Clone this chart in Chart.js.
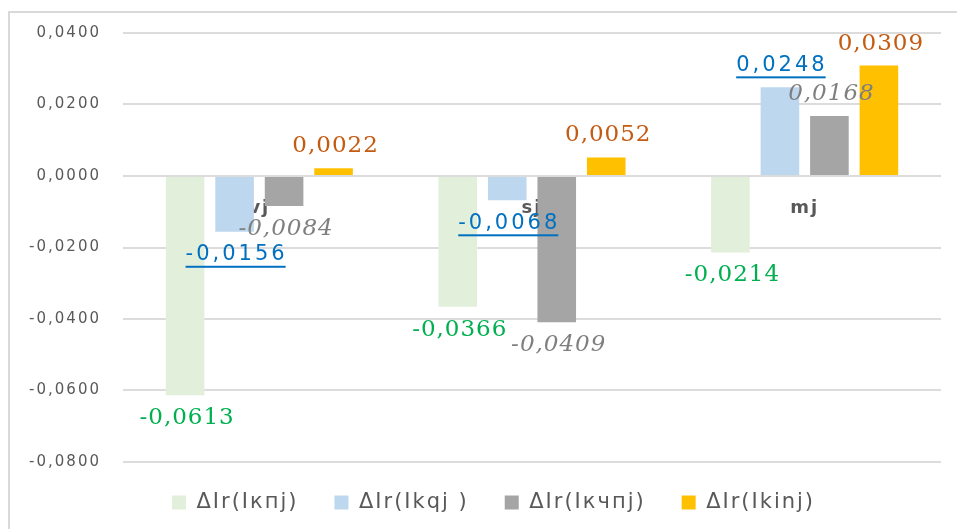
<!DOCTYPE html>
<html>
<head>
<meta charset="utf-8">
<script src="https://cdn.jsdelivr.net/npm/chart.js@4.4.1/dist/chart.umd.min.js"></script>
<style>
html, body { margin: 0; padding: 0; background: #fff; }
canvas { display: block; }
</style>
</head>
<body>
<canvas id="chart" width="957" height="529"></canvas>
<script>
const categories = ['vj', 'sj', 'mj'];
const seriesNames = ['ΔIr(Iкпj)', 'ΔIr(Ikqj )', 'ΔIr(Iкчпj)', 'ΔIr(Ikinj)'];
const kpValues = [-0.0613, -0.0366, -0.0214];
const kqValues = [-0.0156, -0.0068, 0.0248];
const kchpValues = [-0.0084, -0.0409, 0.0168];
const kinValues = [0.0022, 0.0052, 0.0309];
const yTicks = [0.04, 0.02, 0, -0.02, -0.04, -0.06, -0.08];

const barColors = ['#E2EFDA', '#BDD7EE', '#A5A5A5', '#FFC000'];
// value label look per series (Excel styled each series differently)
const labelStyles = [
    { color: '#00B050', font: '23px "DejaVu Serif"', spacing: '1px' },
    { color: '#0070C0', font: '21px "DejaVu Sans"', spacing: '3px', underline: true },
    { color: '#7F7F7F', font: 'italic 23px "DejaVu Serif"', spacing: '1px' },
    { color: '#C55A11', font: '23px "DejaVu Serif"', spacing: '1px' },
];

const fmt = v => Number(v).toFixed(4).replace('.', ',');

// wide text like the original rendering
const spacing = {
    id: 'spacing',
    beforeLayout(chart) { chart.ctx.letterSpacing = '2px'; },
    beforeDraw(chart) { chart.ctx.letterSpacing = '2px'; }
};

// nudge the legend: a bit right and up, like the excel one
const legendShift = {
    id: 'legendShift',
    afterLayout(chart) {
        const lg = chart.legend;
        lg.left += 13; lg.right += 13;
        lg.top -= 6; lg.bottom -= 6;
    }
};

const frame = {
    id: 'frame',
    beforeDraw(chart) {
        const ctx = chart.ctx;
        ctx.save();
        ctx.fillStyle = '#fff';
        ctx.fillRect(0, 0, chart.width, chart.height);
        ctx.strokeStyle = '#d9d9d9';
        ctx.lineWidth = 2;
        ctx.beginPath();
        ctx.moveTo(9, chart.height);
        ctx.lineTo(9, 12);
        ctx.lineTo(chart.width, 12);
        ctx.stroke();
        ctx.restore();
    }
};

const valueLabels = {
    id: 'valueLabels',
    afterDatasetsDraw(chart) {
        const ctx = chart.ctx;
        chart.data.datasets.forEach((ds, i) => {
            const st = labelStyles[i];
            chart.getDatasetMeta(i).data.forEach((bar, j) => {
                const v = ds.data[j];
                const text = fmt(v);
                const y = v < 0 ? bar.y + 23 : bar.y - 22;
                ctx.save();
                ctx.font = st.font;
                ctx.letterSpacing = st.spacing;
                ctx.fillStyle = st.color;
                ctx.textAlign = 'center';
                ctx.textBaseline = 'middle';
                ctx.fillText(text, bar.x + 2, y);
                if (st.underline) {
                    const w = ctx.measureText(text).width;
                    ctx.fillRect(bar.x + 2 - w / 2, y + 11, w - 2, 2);
                }
                ctx.restore();
            });
        });
    }
};

const seriesValues = [kpValues, kqValues, kchpValues, kinValues];

new Chart(document.getElementById('chart'), {
    type: 'bar',
    data: {
        labels: categories,
        datasets: seriesNames.map((name, i) => ({
            label: name,
            data: seriesValues[i],
            backgroundColor: barColors[i],
            barPercentage: 0.78,
            categoryPercentage: 0.726,
        }))
    },
    options: {
        responsive: false,
        animation: false,
        layout: { padding: { left: 20, right: 16, top: 33, bottom: 0 } },
        plugins: {
            tooltip: { enabled: false },
            legend: {
                position: 'bottom',
                labels: {
                    boxWidth: 14,
                    boxHeight: 14,
                    padding: 36,
                    color: '#595959',
                    font: { family: 'DejaVu Sans', size: 21 },
                },
            },
        },
        scales: {
            x: {
                position: { y: 0 },
                z: 1,
                grid: { display: false, drawTicks: false },
                border: { display: false },
                ticks: {
                    padding: 22,
                    color: '#595959',
                    font: { family: 'DejaVu Sans', size: 18, weight: 'bold' },
                },
            },
            y: {
                min: -0.08,
                max: 0.04,
                afterBuildTicks: s => { s.ticks = yTicks.map(v => ({ value: v })); },
                afterFit: s => { s.width = 103; },
                border: { display: false },
                grid: { color: '#dcdcdc', lineWidth: 2, drawTicks: false },
                ticks: {
                    padding: 22,
                    color: '#595959',
                    font: { family: 'DejaVu Sans', size: 15 },
                    callback: v => fmt(v),
                },
            },
        },
    },
    plugins: [spacing, legendShift, frame, valueLabels],
});
</script>
</body>
</html>
